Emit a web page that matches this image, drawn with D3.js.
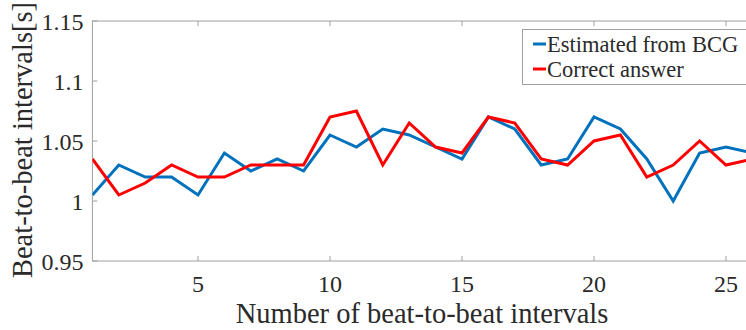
<!DOCTYPE html>
<html>
<head>
<meta charset="utf-8">
<script src="https://cdn.jsdelivr.net/npm/d3@7"></script>
<style>
  body { margin: 0; background: #fff; }
  svg { display: block; }
</style>
</head>
<body>
<div id="vis"></div>
<script>
// beat index 1..26
const beats = d3.range(1, 27)
// estimated intervals from BCG [s]
const estimated = [1.005, 1.03, 1.02, 1.02, 1.005, 1.04, 1.025, 1.035, 1.025, 1.055,
    1.045, 1.06, 1.055, 1.045, 1.035, 1.07, 1.06, 1.03, 1.035, 1.07,
    1.06, 1.035, 1.0, 1.04, 1.045, 1.04]
// ground truth intervals [s]
const correct = [1.035, 1.005, 1.015, 1.03, 1.02, 1.02, 1.03, 1.03, 1.03, 1.07,
    1.075, 1.03, 1.065, 1.045, 1.04, 1.07, 1.065, 1.035, 1.03, 1.05,
    1.055, 1.02, 1.03, 1.05, 1.03, 1.035]
const xTicks = [5, 10, 15, 20, 25]
const yTicks = [0.95, 1, 1.05, 1.1, 1.15]
const seriesNames = ["Estimated from BCG", "Correct answer"]
const seriesColors = ["#0072BD", "#FF0000"]

const width = 746
const height = 330
// plot box; right edge lies just past the picture, as in the original crop
const margin = { left: 92.4, top: 21, bottom: 69 }
const plotRight = 752.4
const serif = "'Liberation Serif', 'Times New Roman', Times, 'DejaVu Serif', serif"

const svg = d3.select("#vis")
    .append("svg")
    .attr("width", width)
    .attr("height", height)
    .attr("font-family", serif)
    .style("font-family", serif)

const x = d3.scaleLinear()
    .domain([1, 26])
    .range([margin.left, plotRight])

const y = d3.scaleLinear()
    .domain([0.95, 1.15])
    .range([height - margin.bottom, margin.top])

const axisColor = "#a0a0a0"
const textColor = "#2a2a2a"

//clip the lines to the plot box
svg.append("clipPath")
    .attr("id", "plotClip")
    .append("rect")
    .attr("x", margin.left)
    .attr("y", margin.top)
    .attr("width", plotRight - margin.left)
    .attr("height", y(0.95) - margin.top)

//frame with inward ticks
const frame = svg.append("g")
frame.append("rect")
    .attr("x", margin.left)
    .attr("y", margin.top)
    .attr("width", plotRight - margin.left)
    .attr("height", y(0.95) - margin.top)
    .attr("fill", "none")
    .attr("stroke", axisColor)
    .attr("stroke-width", 1)

const tickLen = 5
xTicks.forEach(t => {
    frame.append("line")
        .attr("x1", x(t)).attr("x2", x(t))
        .attr("y1", y(0.95)).attr("y2", y(0.95) - tickLen)
        .attr("stroke", axisColor)
    frame.append("line")
        .attr("x1", x(t)).attr("x2", x(t))
        .attr("y1", y(1.15)).attr("y2", y(1.15) + tickLen)
        .attr("stroke", axisColor)
})
yTicks.forEach(t => {
    frame.append("line")
        .attr("x1", margin.left).attr("x2", margin.left + tickLen)
        .attr("y1", y(t)).attr("y2", y(t))
        .attr("stroke", axisColor)
})

//tick labels
svg.append("g")
    .selectAll("text")
    .data(xTicks)
    .enter()
    .append("text")
    .attr("x", d => x(d))
    .attr("y", 291.5)
    .attr("text-anchor", "middle")
    .attr("font-size", 24)
    .attr("fill", textColor)
    .text(d => d)

svg.append("g")
    .selectAll("text")
    .data(yTicks)
    .enter()
    .append("text")
    .attr("x", margin.left - 9)
    .attr("y", d => y(d) + 8.5)
    .attr("text-anchor", "end")
    .attr("font-size", 24)
    .attr("fill", textColor)
    .text(d => d3.format("~g")(d))

//axis titles
svg.append("text")
    .attr("x", 422)
    .attr("y", 323)
    .attr("text-anchor", "middle")
    .attr("font-size", 28.5)
    .attr("fill", textColor)
    .text("Number of beat-to-beat intervals")

svg.append("text")
    .attr("transform", `translate(32, ${140}) rotate(-90)`)
    .attr("text-anchor", "middle")
    .attr("font-size", 28.5)
    .attr("fill", textColor)
    .text("Beat-to-beat intervals[s]")

//data lines
const line = d3.line()
    .x((d, i) => x(beats[i]))
    .y(d => y(d))

const lines = svg.append("g").attr("clip-path", "url(#plotClip)")
;[estimated, correct].forEach((s, i) => {
    lines.append("path")
        .datum(s)
        .attr("d", line)
        .attr("fill", "none")
        .attr("stroke", seriesColors[i])
        .attr("stroke-width", 3)
        .attr("stroke-linejoin", "miter")
})

//legend
const legend = svg.append("g")
legend.append("rect")
    .attr("x", 522.5)
    .attr("y", 29.5)
    .attr("width", 240)
    .attr("height", 55)
    .attr("fill", "#fff")
    .attr("stroke", axisColor)

seriesNames.forEach((name, i) => {
    const base = 52 + i * 25
    legend.append("line")
        .attr("x1", 533).attr("x2", 546)
        .attr("y1", base - 8).attr("y2", base - 8)
        .attr("stroke", seriesColors[i])
        .attr("stroke-width", 3)
    legend.append("text")
        .attr("x", 547)
        .attr("y", base)
        .attr("font-size", 22.5)
        .attr("fill", textColor)
        .text(name)
})
</script>
</body>
</html>
